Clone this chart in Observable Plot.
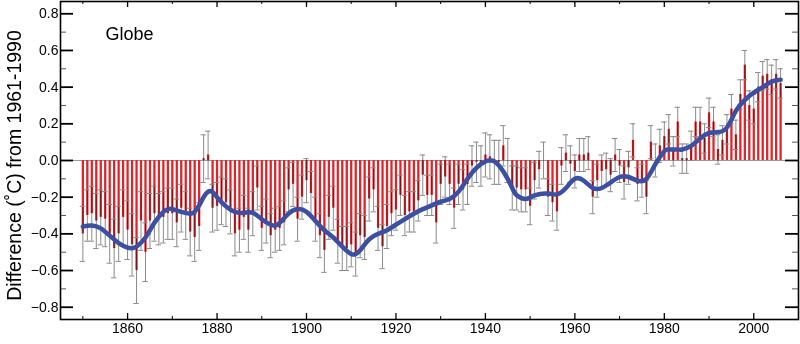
<!DOCTYPE html>
<html><head><meta charset="utf-8">
<script src="https://cdn.jsdelivr.net/npm/d3@7"></script>
<script src="https://cdn.jsdelivr.net/npm/@observablehq/plot@0.6"></script>
<style>body{margin:0;background:#fff}#chart svg{display:block}</style>
</head><body><div id="chart"></div>
<script>
const years = d3.range(1850, 2007);
const anomalies = [
-0.40,-0.30,-0.29,-0.33,-0.31,-0.32,-0.40,-0.48,-0.40,-0.31,
-0.38,-0.46,-0.60,-0.33,-0.50,-0.33,-0.29,-0.32,-0.31,-0.29,
-0.29,-0.34,-0.26,-0.30,-0.39,-0.42,-0.36,0.01,0.03,-0.26,
-0.25,-0.22,-0.23,-0.28,-0.40,-0.38,-0.31,-0.38,-0.29,-0.15,
-0.37,-0.33,-0.41,-0.38,-0.37,-0.34,-0.16,-0.13,-0.32,-0.20,
-0.11,-0.18,-0.32,-0.41,-0.49,-0.31,-0.26,-0.44,-0.48,-0.48,
-0.46,-0.51,-0.41,-0.42,-0.21,-0.16,-0.37,-0.47,-0.36,-0.29,
-0.27,-0.19,-0.30,-0.28,-0.28,-0.22,-0.08,-0.19,-0.19,-0.34,
-0.13,-0.09,-0.13,-0.26,-0.13,-0.16,-0.13,-0.03,-0.01,-0.03,
0.03,0.02,-0.01,-0.01,0.08,0.00,-0.15,-0.15,-0.16,-0.16,
-0.25,-0.11,-0.05,0.00,-0.20,-0.23,-0.28,-0.03,0.04,-0.02,
-0.06,0.03,0.03,0.04,-0.20,-0.11,-0.06,-0.05,-0.08,0.03,
-0.03,-0.12,-0.04,0.11,-0.13,-0.11,-0.20,0.10,0.00,0.08,
0.13,0.17,0.05,0.21,0.01,0.01,0.08,0.21,0.21,0.12,
0.26,0.21,0.06,0.11,0.17,0.28,0.14,0.36,0.52,0.30,
0.28,0.40,0.46,0.47,0.44,0.47,0.42];
const errors = [
0.15,0.14,0.15,0.15,0.15,0.15,0.16,0.16,0.15,0.15,
0.16,0.17,0.18,0.16,0.16,0.15,0.15,0.14,0.14,0.14,
0.14,0.13,0.13,0.13,0.13,0.13,0.13,0.13,0.13,0.13,
0.13,0.13,0.13,0.12,0.12,0.12,0.12,0.12,0.12,0.12,
0.12,0.12,0.12,0.12,0.12,0.12,0.12,0.12,0.12,0.12,
0.12,0.12,0.12,0.12,0.12,0.12,0.12,0.12,0.12,0.12,
0.12,0.12,0.12,0.12,0.12,0.12,0.12,0.12,0.12,0.12,
0.11,0.11,0.11,0.11,0.11,0.11,0.11,0.11,0.11,0.11,
0.11,0.11,0.11,0.11,0.11,0.11,0.11,0.11,0.11,0.11,
0.12,0.12,0.12,0.12,0.11,0.12,0.12,0.12,0.12,0.12,
0.10,0.10,0.10,0.10,0.10,0.10,0.10,0.10,0.10,0.10,
0.09,0.09,0.09,0.09,0.09,0.09,0.09,0.09,0.09,0.09,
0.09,0.09,0.09,0.09,0.09,0.09,0.09,0.09,0.09,0.09,
0.08,0.08,0.08,0.08,0.08,0.08,0.08,0.08,0.08,0.08,
0.08,0.08,0.08,0.08,0.08,0.08,0.08,0.08,0.08,0.08,
0.08,0.08,0.08,0.08,0.08,0.08,0.08];
const smoothYears = [1850,1852,1854,1856,1858,1860,1861,1862,1864,1866,1868,1869,1870,1872,1874,1875,1876,1877,1878,1879,1880,1882,1884,1886,1888,1890,1892,1893,1894,1896,1898,1900,1902,1904,1906,1908,1910,1911,1912,1914,1916,1918,1920,1922,1924,1926,1928,1930,1932,1934,1936,1938,1940,1941,1942,1944,1946,1947,1949,1951,1954,1956,1958,1960,1962,1964,1966,1968,1970,1972,1974,1976,1978,1980,1981,1983,1984,1986,1988,1990,1992,1994,1996,1998,2000,2002,2004,2006];
const smoothValues = [-0.36,-0.355,-0.37,-0.41,-0.45,-0.475,-0.478,-0.47,-0.42,-0.34,-0.28,-0.265,-0.265,-0.28,-0.29,-0.28,-0.245,-0.2,-0.17,-0.172,-0.2,-0.25,-0.28,-0.285,-0.285,-0.32,-0.35,-0.355,-0.34,-0.29,-0.265,-0.28,-0.33,-0.38,-0.42,-0.47,-0.51,-0.51,-0.49,-0.43,-0.40,-0.38,-0.35,-0.32,-0.29,-0.265,-0.245,-0.225,-0.21,-0.17,-0.10,-0.04,-0.005,0.0,-0.005,-0.06,-0.15,-0.19,-0.21,-0.19,-0.18,-0.185,-0.15,-0.10,-0.11,-0.15,-0.15,-0.12,-0.09,-0.09,-0.11,-0.10,-0.02,0.05,0.06,0.06,0.06,0.08,0.12,0.15,0.155,0.18,0.27,0.33,0.37,0.40,0.43,0.44];
const yTicks = [-0.8,-0.6,-0.4,-0.2,0.0,0.2,0.4,0.6,0.8];
const yMinor = [-0.7,-0.5,-0.3,-0.1,0.1,0.3,0.5,0.7];
const xTicks = [1860,1880,1900,1920,1940,1960,1980,2000];
const xMinor = [1850,1870,1890,1910,1930,1950,1970,1990];
const panelTitle = "Globe";
const yTitle = "Difference (\u02DAC) from 1961-1990";

const data = years.map((year, i) => ({year, value: anomalies[i], err: errors[i]}));
const smooth = smoothYears.map((year, i) => ({year, value: smoothValues[i]}));

const W = 800, H = 344, ML = 60, MR = 2, MT = 1, MB = 25;
const iw = W - ML - MR, ih = H - MT - MB;

const chart = Plot.plot({
  width: W, height: H,
  marginLeft: ML, marginRight: MR, marginTop: MT, marginBottom: MB,
  style: {fontFamily: "'Liberation Sans', Arial, sans-serif", background: "#fff", color: "#000"},
  x: {domain: [1845, 2010]},
  y: {domain: [-0.867, 0.867]},
  marks: [
    Plot.ruleY([0], {stroke: "#9a9a9a", strokeWidth: 1}),
    Plot.ruleX(data, {x: "year", y1: 0, y2: "value", stroke: "#dc262b", strokeWidth: 2.3}),
    Plot.ruleX(data, {x: "year", y1: d => d.value - d.err, y2: d => d.value + d.err, stroke: "#8a8a8a", strokeWidth: 1, mixBlendMode: "multiply"}),
    Plot.ruleY(data, {y: d => d.value + d.err, x1: d => d.year - 0.6, x2: d => d.year + 0.6, stroke: "#8a8a8a", strokeWidth: 1}),
    Plot.ruleY(data, {y: d => d.value - d.err, x1: d => d.year - 0.6, x2: d => d.year + 0.6, stroke: "#8a8a8a", strokeWidth: 1}),
    Plot.line(smooth, {x: "year", y: "value", stroke: "#3b4fa3", strokeWidth: 4.5, curve: "natural"}),
    Plot.ruleY(yTicks, {y: d => d, insetRight: iw - 13, stroke: "#000", strokeWidth: 1.8}),
    Plot.ruleY(yMinor, {y: d => d, insetRight: iw - 6, stroke: "#555", strokeWidth: 1}),
    Plot.ruleY(yTicks, {y: d => d, insetLeft: iw - 13, stroke: "#000", strokeWidth: 1.8}),
    Plot.ruleY(yMinor, {y: d => d, insetLeft: iw - 6, stroke: "#555", strokeWidth: 1}),
    Plot.ruleX(xTicks, {x: d => d, insetTop: ih - 6, stroke: "#000", strokeWidth: 1.3}),
    Plot.ruleX(xMinor, {x: d => d, insetTop: ih - 3, stroke: "#000", strokeWidth: 1}),
    Plot.ruleX(xTicks, {x: d => d, insetBottom: ih - 6, stroke: "#000", strokeWidth: 1.3}),
    Plot.ruleX(xMinor, {x: d => d, insetBottom: ih - 3, stroke: "#000", strokeWidth: 1}),
    Plot.frame({stroke: "#000", strokeWidth: 1.6}),
    Plot.axisY({ticks: yTicks, tickSize: 0, tickPadding: 2, fontSize: 14, label: null,
      tickFormat: d => (d < 0 ? "\u2212" : "") + Math.abs(d).toFixed(1)}),
    Plot.axisX({ticks: xTicks, tickSize: 0, tickPadding: 4, fontSize: 14, label: null, tickFormat: d => String(d)}),
    Plot.text([panelTitle], {frameAnchor: "top-left", dx: 45, dy: 26, fontSize: 18, textAnchor: "start"}),
    Plot.text([yTitle], {frameAnchor: "left", rotate: -90, dx: -46, dy: 5, fontSize: 19.5, textAnchor: "middle"})
  ]
});
document.getElementById("chart").appendChild(chart);
</script>
</body></html>
